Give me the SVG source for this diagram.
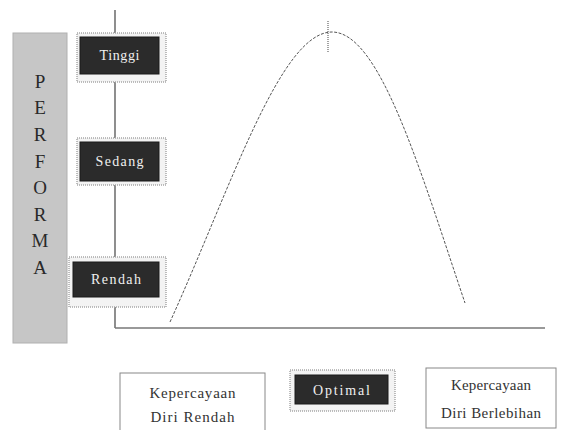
<svg xmlns="http://www.w3.org/2000/svg" width="567" height="430" viewBox="0 0 567 430">
<defs>
<style>
.frame{fill:#f3f3f3;stroke:#a8a8a8;stroke-width:1.5;stroke-dasharray:1 1}
.dark{fill:#2b2b2b;stroke:#1a1a1a;stroke-width:1}
.lt{font-family:"Liberation Serif",serif;font-size:14px;fill:#f0f0f0;text-anchor:middle}
.bt{font-family:"Liberation Serif",serif;font-size:15px;fill:#333;text-anchor:middle}
.wbox{fill:#fff;stroke:#888;stroke-width:1}
.axis{stroke:#444;stroke-width:1.2;fill:none}
.pl{font-family:"Liberation Serif",serif;font-size:19px;fill:#2a2a2a;text-anchor:middle}
</style>
</defs>
<rect width="567" height="430" fill="#fff"/>
<g id="connectors">
<line class="axis" x1="115" y1="10" x2="115" y2="33"/>
<line class="axis" x1="115" y1="82" x2="115" y2="138"/>
<line class="axis" x1="115" y1="185" x2="115" y2="257"/>
<line class="axis" x1="115" y1="307" x2="115" y2="328"/>
<line x1="115" y1="328" x2="545" y2="328" stroke="#777" stroke-width="1.6"/>
<path d="M170,322 C230,190 280,32 332,32 C380,32 420,170 465,303" fill="none" stroke="#555" stroke-width="1" stroke-dasharray="3 1.5"/>
<line x1="328" y1="21" x2="328" y2="53" stroke="#666" stroke-width="1.2" stroke-dasharray="1 1"/>
</g>
<g id="performa">
<rect x="13" y="33" width="54" height="310" fill="#c6c6c6" stroke="#b0b0b0" stroke-width="1"/>
<text class="pl" x="40" y="88">P</text>
<text class="pl" x="40" y="114">E</text>
<text class="pl" x="40" y="141">R</text>
<text class="pl" x="40" y="168">F</text>
<text class="pl" x="40" y="194">O</text>
<text class="pl" x="40" y="221">R</text>
<text class="pl" x="40" y="247">M</text>
<text class="pl" x="40" y="274">A</text>
</g>
<g id="tinggi">
<rect class="frame" x="77" y="33" width="89" height="49"/>
<rect class="dark" x="80" y="37" width="79" height="37"/>
<text class="lt" x="119.5" y="60" textLength="40" lengthAdjust="spacing">Tinggi</text>
</g>
<g id="sedang">
<rect class="frame" x="77" y="138" width="89" height="47"/>
<rect class="dark" x="80" y="142" width="79" height="39"/>
<text class="lt" x="119.5" y="166" textLength="48" lengthAdjust="spacing">Sedang</text>
</g>
<g id="rendah">
<rect class="frame" x="69" y="257" width="97" height="50"/>
<rect class="dark" x="73" y="262" width="86" height="35"/>
<text class="lt" x="116" y="284" textLength="50" lengthAdjust="spacing">Rendah</text>
</g>
<g id="kpd-rendah">
<rect class="wbox" x="120" y="373" width="145" height="62"/>
<text class="bt" x="192.5" y="398" textLength="86" lengthAdjust="spacing">Kepercayaan</text>
<text class="bt" x="192.5" y="422" textLength="84" lengthAdjust="spacing">Diri Rendah</text>
</g>
<g id="optimal">
<rect class="frame" x="290" y="370" width="105" height="41"/>
<rect class="dark" x="295" y="375" width="93" height="29"/>
<text class="lt" x="341.5" y="395" textLength="57" lengthAdjust="spacing">Optimal</text>
</g>
<g id="kpd-berlebihan">
<rect class="wbox" x="426" y="368" width="130" height="60"/>
<text class="bt" x="491" y="390" textLength="80" lengthAdjust="spacing">Kepercayaan</text>
<text class="bt" x="491" y="418" textLength="100" lengthAdjust="spacing">Diri Berlebihan</text>
</g>
</svg>
